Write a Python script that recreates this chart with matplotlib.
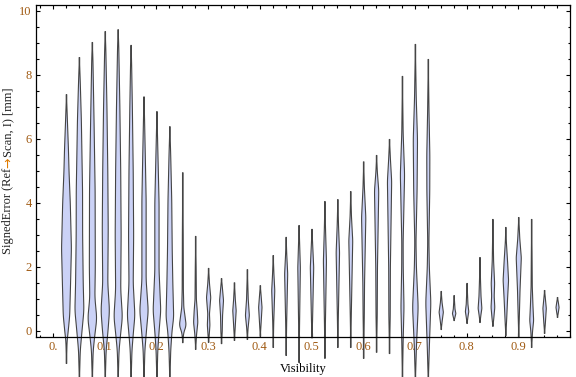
import numpy as np
import matplotlib
matplotlib.use("Agg")
import matplotlib.pyplot as plt
from matplotlib.ticker import MultipleLocator, FixedLocator

# violin centres (Visibility bins)
positions = [0.025, 0.05, 0.075, 0.1, 0.125, 0.15, 0.175, 0.2, 0.225, 0.25,
             0.275, 0.3, 0.325, 0.35, 0.375, 0.4, 0.425, 0.45, 0.475, 0.5,
             0.525, 0.55, 0.575, 0.6, 0.625, 0.65, 0.675, 0.7, 0.725, 0.75,
             0.775, 0.8, 0.825, 0.85, 0.875, 0.9, 0.925, 0.95, 0.975]

# density profile of each violin: (signed error, relative density)
profiles = [
    [(-1.0, 0), (-0.3, 0.7), (0.0, 2), (0.5, 3.8), (1.5, 4.8), (2.6, 5.8), (4.0, 4.5), (5.0, 3), (5.7, 2.3), (6.5, 1.2), (7.4, 0)],
    [(-1.6, 0), (-0.6, 1), (0.0, 3), (0.65, 5.3), (1.5, 4.5), (3.0, 3.8), (4.4, 3.7), (5.5, 3), (6.6, 2.3), (7.8, 1), (8.56, 0)],
    [(-1.6, 0), (-0.6, 1), (-0.1, 3), (0.4, 5.3), (1.06, 3), (2.0, 3.5), (4.4, 3.3), (6.6, 2), (8.5, 0.7), (9.03, 0)],
    [(-1.6, 0), (-0.6, 1), (0.0, 3.2), (0.65, 5), (1.5, 3), (3.2, 3.5), (5.0, 3), (7.0, 2), (8.8, 0.7), (9.37, 0)],
    [(-1.6, 0), (-0.6, 1), (-0.05, 3), (0.45, 5), (1.3, 3), (3.0, 3.5), (5.0, 3), (7.0, 2), (8.9, 0.7), (9.43, 0)],
    [(-1.6, 0), (-0.6, 1), (0.0, 2.8), (0.5, 4.5), (1.5, 2.5), (3.0, 3), (5.0, 2.5), (7.0, 1.5), (8.4, 0.6), (8.94, 0)],
    [(-1.6, 0), (-0.6, 1), (0.0, 2.8), (0.65, 5), (1.6, 2.5), (4.1, 2.5), (5.5, 1.5), (6.8, 0.5), (7.33, 0)],
    [(-1.6, 0), (-0.6, 1), (0.0, 2.5), (0.65, 4.5), (1.9, 2.5), (4.0, 2.5), (5.5, 1.2), (6.87, 0)],
    [(-1.6, 0), (-0.6, 1), (0.0, 2.5), (0.45, 4.5), (1.5, 3.5), (2.5, 2.8), (4.1, 2.2), (5.5, 1), (6.4, 0)],
    [(-0.35, 0), (-0.05, 1), (0.19, 4), (0.5, 2.5), (0.75, 1.2), (1.3, 0.7), (3.0, 0.5), (4.96, 0)],
    [(-0.56, 0), (-0.1, 1), (0.28, 2.5), (0.65, 1.8), (1.0, 0.8), (2.0, 0.5), (2.97, 0)],
    [(-0.34, 0), (0.0, 1), (0.2, 1.5), (0.55, 1.0), (1.06, 2.5), (1.5, 1.0), (1.97, 0)],
    [(-0.38, 0), (0.0, 0.8), (0.5, 1.2), (0.97, 2.3), (1.3, 1.2), (1.65, 0)],
    [(-0.28, 0), (0.1, 0.8), (0.65, 2), (1.0, 1.0), (1.52, 0)],
    [(-0.25, 0), (0.1, 0.8), (0.5, 2.3), (1.0, 1), (1.93, 0)],
    [(-0.15, 0), (0.2, 0.8), (0.75, 2), (1.1, 1), (1.43, 0)],
    [(-0.5, 0), (0.3, 0.6), (1.28, 1.8), (1.8, 0.8), (2.37, 0)],
    [(-0.75, 0), (0.3, 0.6), (1.8, 1.8), (2.4, 0.7), (2.94, 0)],
    [(-0.97, 0), (0.3, 0.6), (2.0, 1.5), (2.7, 0.7), (3.31, 0)],
    [(-0.2, 0), (0.3, 0.6), (2.0, 2), (2.7, 0.8), (3.19, 0)],
    [(-0.84, 0), (0.3, 0.6), (2.2, 1.8), (3.2, 0.7), (4.06, 0)],
    [(-0.5, 0), (0.5, 0.6), (2.47, 2), (3.3, 0.8), (4.12, 0)],
    [(-0.5, 0), (0.5, 0.6), (2.84, 2.3), (3.6, 0.8), (4.37, 0)],
    [(-0.84, 0), (0.5, 0.7), (1.5, 1.0), (3.56, 2.5), (4.5, 0.8), (5.3, 0)],
    [(-0.65, 0), (0.5, 0.7), (2.0, 1.0), (4.4, 2.5), (5.0, 0.8), (5.5, 0)],
    [(-0.69, 0), (0.5, 0.8), (2.0, 1.0), (4.7, 2.5), (5.4, 1.0), (6.0, 0)],
    [(-1.6, 0), (-0.3, 0.8), (0.75, 1.8), (2.0, 0.9), (2.8, 0.8), (4.9, 2.5), (6.2, 0.8), (7.97, 0)],
    [(-1.6, 0), (-0.5, 1.2), (0.75, 3.3), (2.0, 1.2), (2.8, 0.7), (4.4, 2.0), (6.0, 2.5), (7.3, 1), (8.97, 0)],
    [(-1.6, 0), (-0.5, 1.2), (0.9, 3.0), (2.0, 1.2), (2.8, 0.7), (4.4, 1.7), (5.5, 1.8), (6.9, 0.8), (8.5, 0)],
    [(0.06, 0), (0.3, 1), (0.6, 2.5), (0.9, 1), (1.25, 0)],
    [(0.34, 0), (0.45, 1), (0.56, 2), (0.7, 1), (1.12, 0)],
    [(0.25, 0), (0.45, 1), (0.62, 2), (0.85, 1), (1.5, 0)],
    [(0.28, 0), (0.5, 1), (0.72, 2.2), (1.1, 1.2), (1.6, 0.6), (2.31, 0)],
    [(0.16, 0), (0.4, 1), (0.75, 2.2), (1.1, 1.5), (1.5, 2.0), (2.2, 0.8), (3.5, 0)],
    [(-0.13, 0), (0.4, 1), (1.0, 2.0), (1.6, 3.2), (2.2, 2), (2.8, 0.6), (3.25, 0)],
    [(-0.19, 0), (0.5, 0.7), (1.3, 1.5), (2.3, 3.0), (2.9, 1.2), (3.56, 0)],
    [(-0.5, 0), (0.0, 1), (0.34, 2.3), (0.8, 1.5), (1.4, 0.7), (2.5, 0.4), (3.5, 0)],
    [(-0.06, 0), (0.3, 1), (0.72, 2), (1.0, 1), (1.28, 0)],
    [(0.44, 0), (0.6, 1), (0.75, 1.8), (0.9, 1), (1.06, 0)],
]

xtick_vals = [0.0, 0.1, 0.2, 0.3, 0.4, 0.5, 0.6, 0.7, 0.8, 0.9]
xtick_labels = ["0.", "0.1", "0.2", "0.3", "0.4", "0.5", "0.6", "0.7", "0.8", "0.9"]
ytick_vals = [0, 2, 4, 6, 8, 10]

serif = ["Liberation Serif", "DejaVu Serif"]
plt.rcParams["font.family"] = serif
tick_color = "#a05a12"

fig = plt.figure(figsize=(5.76, 3.77), dpi=100)
ax = fig.add_axes([0.0625, 0.106, 0.927, 0.881])
ax.set_xlim(-0.033, 1.0)
ax.set_ylim(-0.19, 10.19)

# one density unit is roughly one pixel of half width
ax_px = ax.get_window_extent().width
unit = 0.85 * (1.0 - (-0.033)) / ax_px

for x0, prof in zip(positions, profiles):
    ys = np.array([p[0] for p in prof])
    ws = np.array([p[1] for p in prof])
    yy = np.linspace(ys[0], ys[-1], 400)
    ww = np.interp(yy, ys, ws)
    k = np.ones(15) / 15
    ww = np.convolve(np.pad(ww, 7, mode="edge"), k, mode="valid")
    ww[0] = ww[-1] = 0
    ww = np.maximum(ww, 0.3) * unit
    ax.fill_betweenx(yy, x0 - ww, x0 + ww, facecolor="#cbd2f6",
                     edgecolor="#454545", linewidth=0.8, clip_on=False, zorder=2)

ax.xaxis.set_major_locator(FixedLocator(xtick_vals))
ax.set_xticklabels(xtick_labels)
ax.xaxis.set_minor_locator(MultipleLocator(0.025))
ax.yaxis.set_major_locator(FixedLocator(ytick_vals))
ax.yaxis.set_minor_locator(MultipleLocator(0.5))
ax.tick_params(which="both", direction="in", top=True, right=True,
               labelsize=9, labelcolor=tick_color, width=0.8, color="black")
ax.tick_params(which="major", length=3.2, pad=3)
ax.tick_params(which="minor", length=1.8)
for s in ax.spines.values():
    s.set_linewidth(0.9)
    s.set_zorder(5)

ax.set_xlabel("Visibility", fontsize=9, labelpad=7)

# y label in three pieces so the arrow can be coloured
fig.canvas.draw()
r = fig.canvas.get_renderer()
parts = [("SignedError (Ref", "#222222", serif),
         ("\u2192", "#e07b00", ["DejaVu Sans"]),
         ("Scan, I) [mm]", "#222222", serif)]
lx = 8 / 576
texts = []
for s, c, fam in parts:
    t = fig.text(lx, 0, s, rotation=90, fontsize=9, color=c,
                 ha="center", va="bottom", family=fam)
    texts.append(t)
heights = [t.get_window_extent(r).height for t in texts]
total = sum(heights)
fig_h = fig.get_window_extent().height
ax_bb = ax.get_window_extent()
ystart = (ax_bb.y0 + ax_bb.y1) / 2 - total / 2
for t, h in zip(texts, heights):
    t.set_y(ystart / fig_h)
    ystart += h

fig.savefig("out.png", dpi=100)
